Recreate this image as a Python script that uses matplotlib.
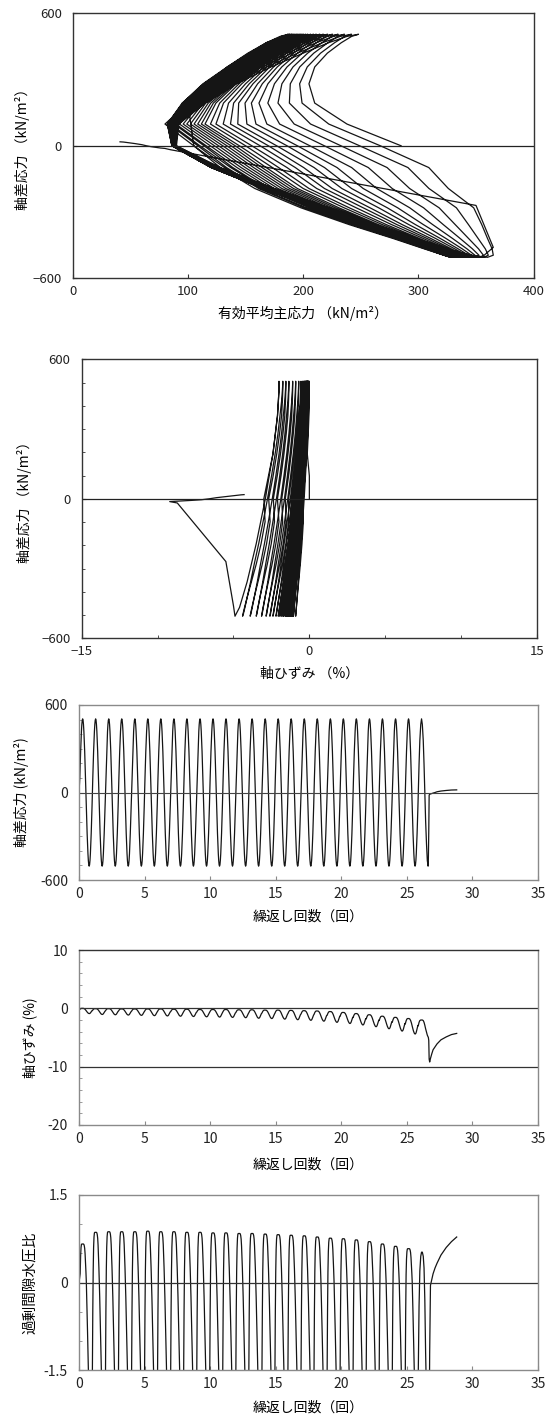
import matplotlib
matplotlib.use('Agg')
import matplotlib.pyplot as plt
from matplotlib.ticker import MultipleLocator

plt.rcParams['font.family'] = ['Noto Sans CJK JP', 'DejaVu Sans']

# ---------------- data ----------------
# start (q = 0, rising) of the regular loading cycles 0..25
cycle_start = [0.03, 1.02, 2.02, 3.01, 4.01, 5.0, 5.99, 6.99, 7.98, 8.98,
               9.97, 10.96, 11.96, 12.95, 13.95, 14.94, 15.93, 16.93, 17.92,
               18.92, 19.91, 20.9, 21.9, 22.89, 23.89, 24.88]
cycle_len = 0.994

# one cycle read at 32 phase points (k=0: q=0 rising, k=8: peak, k=24: trough)
q_amp = 505
q_shape = [0, 0.195, 0.383, 0.556, 0.707, 0.831, 0.924, 0.981, 1, 0.981, 0.924,
           0.831, 0.707, 0.556, 0.383, 0.195, 0, -0.195, -0.383, -0.556, -0.707,
           -0.831, -0.924, -0.981, -1, -0.981, -0.924, -0.831, -0.707, -0.556,
           -0.383, -0.195]

# axial strain (%): value at q peak / at q trough for each cycle
strain_top = [0.0, -0.05, -0.05, -0.1, -0.1, -0.1, -0.1, -0.15, -0.15, -0.2,
              -0.2, -0.2, -0.25, -0.25, -0.3, -0.3, -0.35, -0.4, -0.45, -0.55,
              -0.7, -0.9, -1.1, -1.35, -1.55, -1.75]
strain_bot = [-0.9, -1.05, -1.1, -1.15, -1.2, -1.25, -1.3, -1.35, -1.4, -1.45,
              -1.5, -1.55, -1.6, -1.7, -1.75, -1.85, -1.95, -2.05, -2.2, -2.4,
              -2.6, -2.85, -3.15, -3.5, -3.9, -4.4]
strain_shape = [0.35, 0.24, 0.15, 0.08, 0.03, 0.01, 0, 0, 0, 0, 0.01, 0.03, 0.07,
                0.12, 0.19, 0.28, 0.38, 0.49, 0.6, 0.71, 0.8, 0.88, 0.94, 0.98,
                1.0, 0.99, 0.95, 0.88, 0.78, 0.66, 0.54, 0.44]
strain_first = [0.0, 0.0]

# effective mean principal stress: first cycles / last cycles, and mixing per cycle
p_early = [285, 238, 210, 205, 210, 221, 233, 242, 248, 238, 222, 200, 172, 142,
           115, 92, 90, 128, 175, 222, 262, 298, 325, 345, 360, 365, 364, 360,
           355, 348, 326, 309]
p_late = [105, 80, 100, 124, 145, 162, 175, 183, 187, 180, 168, 152, 134, 113,
          95, 82, 86, 120, 165, 210, 250, 283, 307, 322, 328, 322, 305, 278,
          240, 198, 158, 128]
p_mix = [0, 0.1, 0.2, 0.29, 0.37, 0.44, 0.5, 0.55, 0.6, 0.64, 0.68, 0.72, 0.75,
         0.78, 0.8, 0.82, 0.84, 0.86, 0.88, 0.9, 0.92, 0.94, 0.95, 0.97, 0.98, 1.0]

# excess pore water pressure ratio
ru_top = [0.66, 0.86, 0.87, 0.87, 0.87, 0.88, 0.87, 0.87, 0.86, 0.86, 0.85, 0.85,
          0.84, 0.84, 0.83, 0.82, 0.81, 0.80, 0.78, 0.76, 0.75, 0.73, 0.70, 0.66,
          0.62, 0.58]
ru_shape_top = 0.86
ru_shape = [-1.55, -0.5, 0.2, 0.6, 0.78, 0.85, 0.86, 0.86, 0.86, 0.86, 0.86, 0.85,
            0.82, 0.76, 0.64, 0.46, 0.25, 0.02, -0.25, -0.55, -0.85, -1.15, -1.45,
            -1.8, -2.3, -2.8, -3.1, -3.2, -3.1, -2.9, -2.6, -2.2]
ru_first = [0.0, 0.1]

# last cycle, failure and after
t_fail = [25.87, 25.93, 25.99, 26.06, 26.12, 26.18, 26.25, 26.31, 26.37, 26.43,
          26.50, 26.56, 26.62, 26.64, 26.67, 26.70, 26.74, 26.80, 26.90, 27.00,
          27.15, 27.30, 27.60, 28.00, 28.40, 28.80]
q_fail = [0, 193, 357, 467, 505, 467, 357, 193, 0, -193, -357, -467, -505, -460,
          -270, -18, -12, -10, -7, -4, 0, 5, 10, 14, 17, 18]
strain_fail = [-3.0, -2.4, -2.1, -2.0, -2.0, -2.0, -2.1, -2.4, -2.9, -3.5, -4.1,
               -4.6, -4.9, -5.0, -5.5, -8.7, -9.2, -8.6, -7.8, -7.1, -6.6, -6.1,
               -5.4, -4.9, -4.5, -4.3]
p_fail = [105, 100, 145, 175, 187, 168, 134, 95, 86, 165, 250, 320, 355, 365, 350,
          85, 80, 76, 72, 68, 64, 60, 54, 48, 44, 41]
ru_fail = [-1.55, -0.4, 0.2, 0.45, 0.52, 0.52, 0.45, 0.25, -0.3, -1.2, -2.0, -2.6,
           -3.0, -3.1, -3.1, -2.6, -1.2, -0.05, 0.05, 0.15, 0.25, 0.33, 0.47, 0.6,
           0.7, 0.78]

# ---------------- build the records ----------------
t, q, eps, p, ru = [0.0], [0.0], [0.0], [p_early[0]], [0.0]
for n, t0 in enumerate(cycle_start):
    for k in range(32):
        if n == 0 and k == 0:
            continue
        t.append(t0 + k / 32 * cycle_len)
        q.append(q_amp * q_shape[k])
        if n == 0 and k < 2:
            eps.append(strain_first[k])
            ru.append(ru_first[k])
        else:
            eps.append(strain_top[n] + (strain_bot[n] - strain_top[n]) * strain_shape[k])
            r = ru_shape[k]
            ru.append(r * ru_top[n] / ru_shape_top if r > 0 else r)
        p.append((1 - p_mix[n]) * p_early[k] + p_mix[n] * p_late[k])
t += t_fail
q += q_fail
eps += strain_fail
p += p_fail
ru += ru_fail

# ---------------- figure ----------------
W, H = 557, 1423
fig = plt.figure(figsize=(W / 100, H / 100), dpi=100)


def rect(x0, x1, y0, y1):
    return [x0 / W, 1 - y1 / H, (x1 - x0) / W, (y1 - y0) / H]


lc = '#151515'
lw = 0.9
lfs = 10


def style(ax, spine_color, lab_x, lab_y, fs):
    for s in ax.spines.values():
        s.set_color(spine_color)
        s.set_linewidth(1.0)
    ax.tick_params(which='both', direction='in', colors=spine_color,
                   labelcolor='#222222', labelsize=fs)
    ax.tick_params(axis='y', which='major', length=3, pad=8)
    ax.tick_params(axis='x', which='major', length=3, pad=5)
    ax.tick_params(which='minor', length=2.5)
    ax.yaxis.set_label_coords(lab_x, 0.5)
    ax.xaxis.set_label_coords(0.5, lab_y)


# panel 1: stress path
ax1 = fig.add_axes(rect(72.8, 533.6, 13.3, 278.3))
ax1.plot(p, q, color=lc, lw=lw)
ax1.axhline(0, color='#222222', lw=0.9)
ax1.set_xlim(0, 400)
ax1.set_ylim(-600, 600)
ax1.set_xticks([0, 100, 200, 300, 400], ['0', '100', '200', '300', '400'])
ax1.set_yticks([-600, 0, 600], ['−600', '0', '600'])
ax1.set_xlabel('有効平均主応力 （kN/m²）', fontsize=lfs)
ax1.set_ylabel('軸差応力 （kN/m²）', fontsize=lfs)
style(ax1, '#333333', -0.093, -0.105, 9.5)

# panel 2: stress-strain
ax2 = fig.add_axes(rect(81.7, 537.0, 359.3, 638.3))
ax2.plot(eps, q, color=lc, lw=lw)
ax2.axhline(0, color='#222222', lw=0.9)
ax2.set_xlim(-15, 15)
ax2.set_ylim(-600, 600)
ax2.set_xticks([-15, 0, 15], ['−15', '0', '15'])
ax2.set_yticks([-600, 0, 600], ['−600', '0', '600'])
ax2.xaxis.set_minor_locator(MultipleLocator(5))
ax2.yaxis.set_minor_locator(MultipleLocator(100))
ax2.set_xlabel('軸ひずみ （%）', fontsize=lfs)
ax2.set_ylabel('軸差応力 （kN/m²）', fontsize=lfs)
style(ax2, '#333333', -0.109, -0.103, 9.5)

n_ticks = [0, 5, 10, 15, 20, 25, 30, 35]
n_labels = ['0', '5', '10', '15', '20', '25', '30', '35']

# panel 3: deviator stress vs cycles
ax3 = fig.add_axes(rect(79, 538, 705, 880))
ax3.plot(t, q, color=lc, lw=lw)
ax3.axhline(0, color='#444444', lw=0.8)
ax3.set_xlim(0, 35)
ax3.set_ylim(-600, 600)
ax3.set_xticks(n_ticks, n_labels)
ax3.set_yticks([-600, 0, 600], ['-600', '0', '600'])
ax3.yaxis.set_minor_locator(MultipleLocator(100))
ax3.set_xlabel('繰返し回数（回）', fontsize=lfs)
ax3.set_ylabel('軸差応力 (kN/m²)', fontsize=lfs)
style(ax3, '#8a8a8a', -0.109, -0.171, 10)

# panel 4: axial strain vs cycles
ax4 = fig.add_axes(rect(79, 538, 950, 1125))
ax4.plot(t, eps, color=lc, lw=lw)
for yv in [0, -10]:
    ax4.axhline(yv, color='#333333', lw=0.9)
ax4.set_xlim(0, 35)
ax4.set_ylim(-20, 10)
ax4.set_xticks(n_ticks, n_labels)
ax4.set_yticks([-20, -10, 0, 10], ['-20', '-10', '0', '10'])
ax4.yaxis.set_minor_locator(MultipleLocator(2))
ax4.set_xlabel('繰返し回数（回）', fontsize=lfs)
ax4.set_ylabel('軸ひずみ (%)', fontsize=lfs)
style(ax4, '#8a8a8a', -0.0915, -0.189, 10)
ax4.spines['top'].set_color('#333333')

# panel 5: excess pore pressure ratio vs cycles
ax5 = fig.add_axes(rect(79, 538, 1195, 1370))
ax5.plot(t, ru, color=lc, lw=lw)
ax5.axhline(0, color='#333333', lw=0.9)
ax5.set_xlim(0, 35)
ax5.set_ylim(-1.5, 1.5)
ax5.set_xticks(n_ticks, n_labels)
ax5.set_yticks([-1.5, 0, 1.5], ['-1.5', '0', '1.5'])
ax5.yaxis.set_minor_locator(MultipleLocator(0.5))
ax5.set_xlabel('繰返し回数（回）', fontsize=lfs)
ax5.set_ylabel('過剰間隙水圧比', fontsize=10.5)
style(ax5, '#8a8a8a', -0.0915, -0.177, 10)

fig.savefig('out.png', dpi=100)
